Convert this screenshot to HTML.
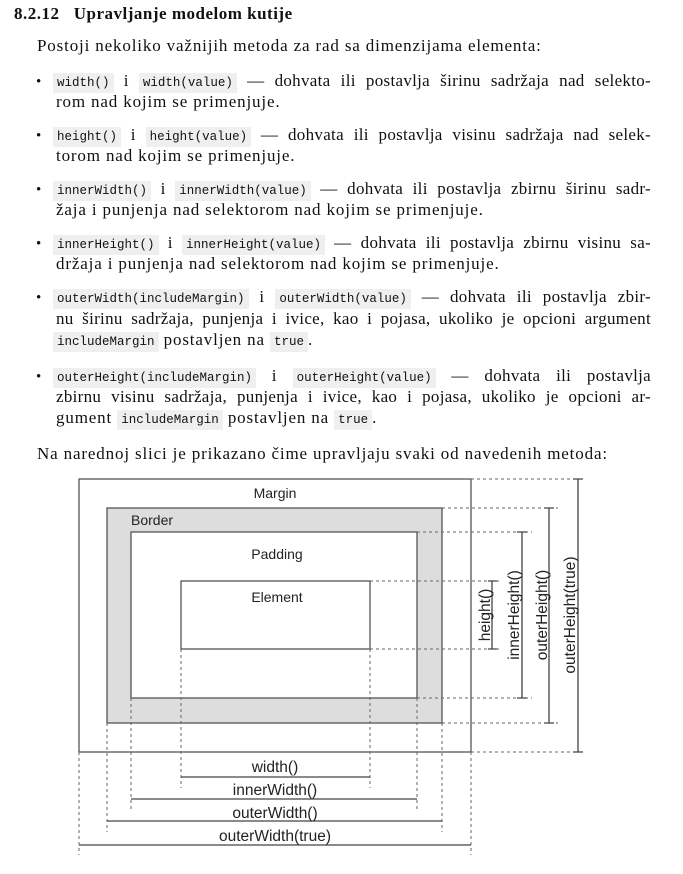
<!DOCTYPE html>
<html><head><meta charset="utf-8"><style>
body{margin:0;width:683px;height:874px;background:#fff;position:relative;overflow:hidden;font-family:"Liberation Serif",serif;color:#111}
.l{position:absolute;font-size:17px;letter-spacing:0.85px;line-height:20px;white-space:nowrap}
.j{text-align:justify;text-align-last:justify;white-space:normal;letter-spacing:0.3px}
code{font-family:"Liberation Mono",monospace;font-size:12.5px;letter-spacing:0;background:#efefef;padding:3px 4px}
.b{position:absolute;left:36px;font-size:15px}
h1{position:absolute;margin:0;left:14px;top:4px;font-size:17px;font-weight:bold;letter-spacing:0.5px}
svg text{font-family:"Liberation Sans",sans-serif;fill:#222}
</style></head><body>
<h1>8.2.12&nbsp;&nbsp;&nbsp;Upravljanje modelom kutije</h1>
<div class="l" style="left:37px;top:36px">Postoji nekoliko važnijih metoda za rad sa dimenzijama elementa:</div>

<div class="b" style="top:74px">•</div>
<div class="l j" style="left:53px;top:71px;width:598px"><code>width()</code> i <code>width(value)</code> — dohvata ili postavlja širinu sadržaja nad selekto-</div>
<div class="l" style="left:56px;top:92px">rom nad kojim se primenjuje.</div>

<div class="b" style="top:128px">•</div>
<div class="l j" style="left:53px;top:125px;width:598px"><code>height()</code> i <code>height(value)</code> — dohvata ili postavlja visinu sadržaja nad selek-</div>
<div class="l" style="left:56px;top:146px">torom nad kojim se primenjuje.</div>

<div class="b" style="top:182px">•</div>
<div class="l j" style="left:53px;top:179px;width:598px"><code>innerWidth()</code> i <code>innerWidth(value)</code> — dohvata ili postavlja zbirnu širinu sadr-</div>
<div class="l" style="left:56px;top:200px">žaja i punjenja nad selektorom nad kojim se primenjuje.</div>

<div class="b" style="top:236px">•</div>
<div class="l j" style="left:53px;top:233px;width:598px"><code>innerHeight()</code> i <code>innerHeight(value)</code> — dohvata ili postavlja zbirnu visinu sa-</div>
<div class="l" style="left:56px;top:254px">držaja i punjenja nad selektorom nad kojim se primenjuje.</div>

<div class="b" style="top:290px">•</div>
<div class="l j" style="left:53px;top:287px;width:598px"><code>outerWidth(includeMargin)</code> i <code>outerWidth(value)</code> — dohvata ili postavlja zbir-</div>
<div class="l j" style="left:56px;top:309px;width:595px">nu širinu sadržaja, punjenja i ivice, kao i pojasa, ukoliko je opcioni argument</div>
<div class="l" style="left:53px;top:330px"><code>includeMargin</code> postavljen na <code>true</code>.</div>

<div class="b" style="top:369px">•</div>
<div class="l j" style="left:53px;top:366px;width:598px"><code>outerHeight(includeMargin)</code> i <code>outerHeight(value)</code> — dohvata ili postavlja</div>
<div class="l j" style="left:56px;top:387px;width:595px">zbirnu visinu sadržaja, punjenja i ivice, kao i pojasa, ukoliko je opcioni ar-</div>
<div class="l" style="left:56px;top:408px">gument <code>includeMargin</code> postavljen na <code>true</code>.</div>

<div class="l" style="left:37px;top:444px">Na narednoj slici je prikazano čime upravljaju svaki od navedenih metoda:</div>

<svg style="position:absolute;left:0;top:0" width="683" height="874">
<g fill="none" stroke="#555" stroke-width="1.3">
<rect x="79" y="479" width="392" height="273" fill="#fff"/>
<rect x="107" y="508" width="335" height="215" fill="#ddd"/>
<rect x="131" y="532" width="286" height="166" fill="#fff"/>
<rect x="181" y="581" width="189" height="68" fill="#fff"/>
</g>
<g stroke="#666" stroke-width="1" stroke-dasharray="3,3" fill="none">
<path d="M471 479H580M442 508H558M417 532H532M370 581H500M370 649H500M417 698H532M442 723H558M471 752H580"/>
<path d="M181 649V788M370 649V788M131 698V810M417 698V810M107 723V832M442 723V832M79 752V855M471 752V855"/>
</g>
<g stroke="#444" stroke-width="1.3" fill="none">
<path d="M181 777H370M131 799H417M107 821H442M79 845H471"/>
<path d="M492 581V649M488 581H497M488 649H497"/>
<path d="M522 532V698M517 532H527M517 698H527"/>
<path d="M549 508V723M544 508H554M544 723H554"/>
<path d="M578 479V752M573 479H583M573 752H583"/>
</g>
<g font-size="14">
<text x="275" y="498" text-anchor="middle">Margin</text>
<text x="131" y="525">Border</text>
<text x="277" y="559" text-anchor="middle">Padding</text>
<text x="277" y="602" text-anchor="middle">Element</text>
</g>
<g font-size="15.5" text-anchor="middle">
<text x="275" y="772">width()</text>
<text x="275" y="795">innerWidth()</text>
<text x="275" y="818">outerWidth()</text>
<text x="275" y="841">outerWidth(true)</text>
<text transform="translate(490,615) rotate(-90)">height()</text>
<text transform="translate(519,615) rotate(-90)">innerHeight()</text>
<text transform="translate(547,615) rotate(-90)">outerHeight()</text>
<text transform="translate(575,615) rotate(-90)">outerHeight(true)</text>
</g>
</svg>
</body></html>
